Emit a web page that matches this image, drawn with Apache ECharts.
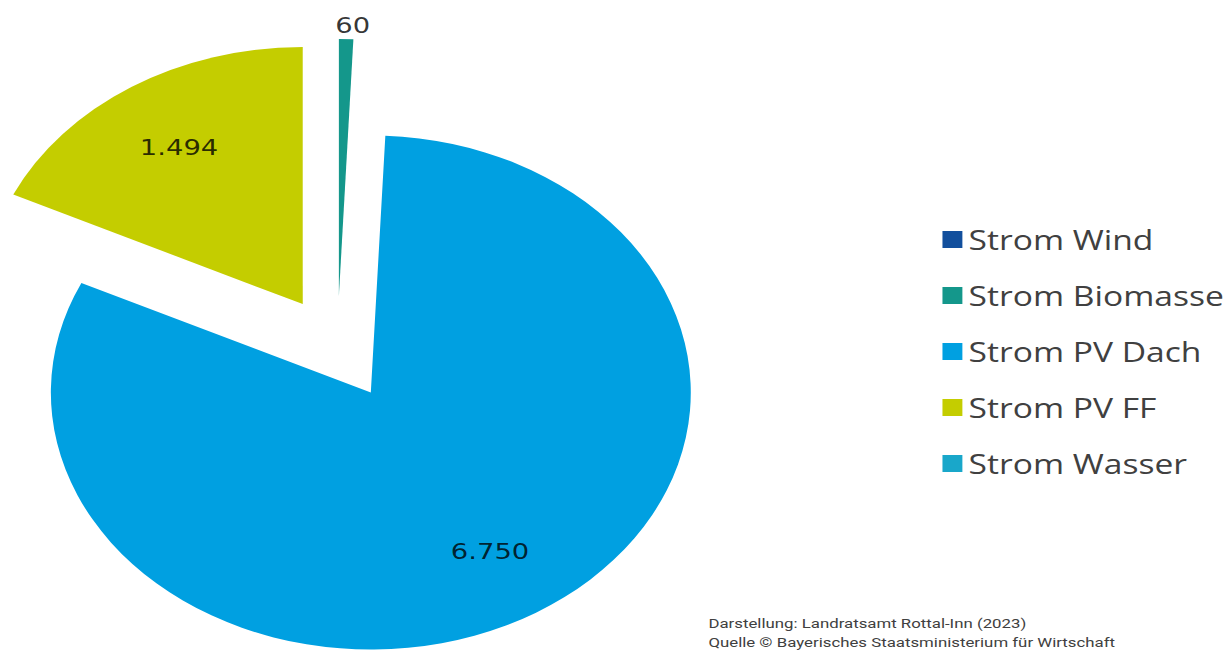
<!DOCTYPE html>
<html>
<head>
<meta charset="utf-8">
<script src="https://cdn.jsdelivr.net/npm/echarts@6/dist/echarts.min.js"></script>
<style>
  html, body { margin: 0; padding: 0; background: #fff; overflow: hidden; }
  /* die Vorlage ist waagerecht gestreckt -> ganzes Diagramm strecken */
  #main { width: 988px; height: 651px; transform: scaleX(1.245); transform-origin: 0 0; }
</style>
</head>
<body>
<div id="main"></div>
<script>
// Daten
const categories = ['Strom Wind', 'Strom Biomasse', 'Strom PV Dach', 'Strom PV FF', 'Strom Wasser']
const values = [0, 60, 6750, 1494, 0]
const colors = ['#124f9d', '#14978b', '#00a0e1', '#c4cd00', '#19a7ca']
const footerLines = [
  'Darstellung: Landratsamt Rottal-Inn (2023)',
  'Quelle © Bayerisches Staatsministerium für Wirtschaft'
]

// Tausenderpunkt wie im Original
const fmt = v => String(v).replace(/\B(?=(\d{3})+(?!\d))/g, '.')

const pieCenter = [271, 348]
const pieRadius = 257
const explode = 52
const labelFont = { fontFamily: 'DejaVu Sans', fontSize: 22, color: 'rgba(0,0,0,0.8)' }

const chart = echarts.init(document.getElementById('main'), null, { renderer: 'svg' })

const sliceData = categories.map((name, i) => ({
  name,
  value: values[i],
  selected: true,
  itemStyle: { color: colors[i] }
}))

// zweite, unsichtbare Serie nur fuer die Beschriftung (liegt bei ~70% des Radius)
const labelData = categories.map((name, i) => ({ name, value: values[i], selected: true }))

const option = {
  backgroundColor: '#fff',
  animation: false,
  legend: {
    orient: 'vertical',
    left: 752,
    top: 221,
    icon: 'rect',
    itemWidth: 16,
    itemHeight: 17,
    itemGap: 29,
    selectedMode: false,
    data: categories,
    textStyle: { fontFamily: 'Open Sans', fontSize: 27, lineHeight: 27, color: '#404040' }
  },
  graphic: footerLines.map((t, i) => ({
    type: 'text',
    left: 569,
    top: 617 + i * 19,
    style: { text: t, fontFamily: 'Roboto', fontSize: 13.5, fill: '#404040' }
  })),
  series: [
    {
      type: 'pie',
      center: pieCenter,
      radius: [0, pieRadius],
      startAngle: 90,
      clockwise: true,
      selectedMode: 'multiple',
      selectedOffset: explode,
      avoidLabelOverlap: false,
      silent: true,
      itemStyle: { borderWidth: 0 },
      select: { itemStyle: { borderWidth: 0 } },
      emphasis: { disabled: true },
      label: {
        show: true,
        position: 'outside',
        ...labelFont,
        formatter: p => (p.value > 0 && p.percent < 5 ? fmt(p.value) : '')
      },
      labelLine: { show: false, length: 14, length2: 0 },
      labelLayout: () => ({ align: 'center' }),
      data: sliceData
    },
    {
      type: 'pie',
      center: pieCenter,
      radius: [pieRadius * 0.42, pieRadius],
      startAngle: 90,
      clockwise: true,
      selectedMode: 'multiple',
      selectedOffset: explode,
      avoidLabelOverlap: false,
      silent: true,
      legendHoverLink: false,
      itemStyle: { color: 'transparent', borderWidth: 0 },
      select: { itemStyle: { color: 'transparent', borderWidth: 0 } },
      emphasis: { disabled: true },
      label: {
        show: true,
        position: 'inside',
        ...labelFont,
        formatter: p => (p.percent >= 5 ? fmt(p.value) : '')
      },
      labelLine: { show: false },
      data: labelData
    }
  ]
}

chart.setOption(option)
</script>
</body>
</html>
